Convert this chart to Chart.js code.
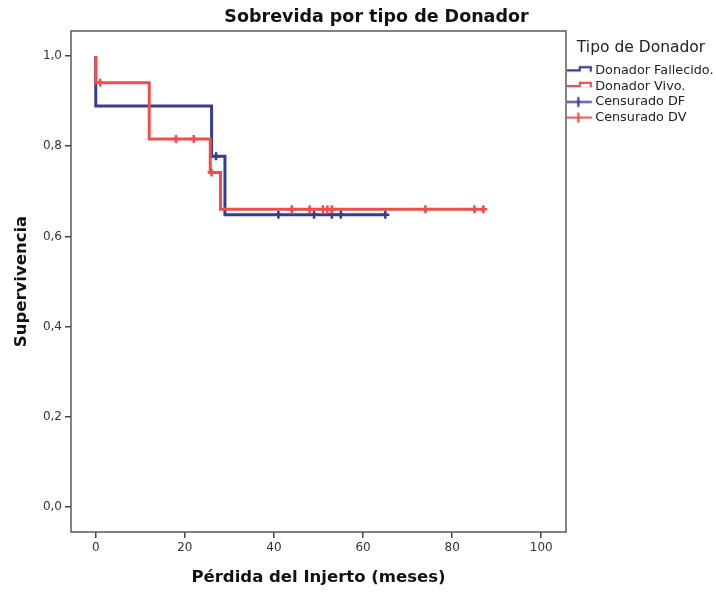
<!DOCTYPE html>
<html>
<head>
<meta charset="utf-8">
<script src="https://cdn.jsdelivr.net/npm/chart.js@4.4.1/dist/chart.umd.min.js"></script>
<style>
    body { margin: 0; background: #fff; }
    #wrap { position: relative; width: 716px; height: 592px; }
    #titulo {
        position: absolute; left: 0; top: 6px; width: 753px;
        text-align: center; line-height: 22px;
        font: bold 17.5px "DejaVu Sans", sans-serif; color: #111;
    }
</style>
</head>
<body>
<div id="wrap">
    <div id="titulo">Sobrevida por tipo de Donador</div>
    <canvas id="kmChart" width="716" height="592"></canvas>
</div>
<script>
// Kaplan-Meier, valores
const fallecidoTiempo = [0, 0, 26, 29, 65];
const fallecidoSuperv = [1.0, 0.889, 0.778, 0.648, 0.648];
const vivoTiempo = [0, 0, 12, 25.7, 28, 87];
const vivoSuperv = [1.0, 0.941, 0.816, 0.742, 0.660, 0.660];

const censDFTiempo = [27, 41, 49, 53, 55, 65];
const censDFSuperv = [0.778, 0.648, 0.648, 0.648, 0.648, 0.648];
const censDVTiempo = [1, 18, 22, 26, 44, 48, 51, 52, 53, 74, 85, 87];
const censDVSuperv = [0.941, 0.816, 0.816, 0.742, 0.660, 0.660, 0.660, 0.660, 0.660, 0.660, 0.660, 0.660];

const xTicks = [0, 20, 40, 60, 80, 100];
const yTicks = [0, 0.2, 0.4, 0.6, 0.8, 1.0];

const azul = '#363d8e';
const rojo = '#f24c4c';

const toPoints = (xs, ys) => xs.map((x, i) => ({ x: x, y: ys[i] }));

// legend icons (step for the curves, cross for the censored)
function stepIcon(color) {
    const c = document.createElement('canvas');
    c.width = 28; c.height = 13;
    const g = c.getContext('2d');
    g.strokeStyle = color;
    g.lineWidth = 2.2;
    g.beginPath();
    g.moveTo(2, 6.2);
    g.lineTo(15, 6.2);
    g.lineTo(15, 2.8);
    g.lineTo(26, 2.8);
    g.lineTo(26, 7.5);
    g.stroke();
    return c;
}
function crossIcon(color) {
    const c = document.createElement('canvas');
    c.width = 28; c.height = 13;
    const g = c.getContext('2d');
    g.strokeStyle = color;
    g.lineWidth = 2.2;
    g.beginPath();
    g.moveTo(2, 6.5); g.lineTo(27, 6.5);
    g.moveTo(13.5, 1.5); g.lineTo(13.5, 11.5);
    g.stroke();
    return c;
}
const icons = [stepIcon(azul), stepIcon(rojo), crossIcon(azul), crossIcon(rojo)];

// box around the plot area
const frame = {
    id: 'frame',
    beforeDatasetsDraw(chart) {
        const a = chart.chartArea;
        const ctx = chart.ctx;
        ctx.save();
        ctx.strokeStyle = '#5a5a5a';
        ctx.lineWidth = 1.5;
        ctx.strokeRect(a.left, a.top, a.right - a.left, a.bottom - a.top);
        ctx.restore();
    }
};

const ctx = document.getElementById('kmChart').getContext('2d');
new Chart(ctx, {
    type: 'line',
    data: {
        datasets: [{
            label: 'Donador Fallecido.',
            data: toPoints(fallecidoTiempo, fallecidoSuperv),
            borderColor: azul,
            borderWidth: 3,
            stepped: true,
            pointRadius: 0,
            fill: false,
            order: 4
        }, {
            label: 'Donador Vivo.',
            data: toPoints(vivoTiempo, vivoSuperv),
            borderColor: rojo,
            borderWidth: 3,
            stepped: true,
            pointRadius: 0,
            fill: false,
            order: 2
        }, {
            label: 'Censurado DF',
            data: toPoints(censDFTiempo, censDFSuperv),
            showLine: false,
            pointStyle: 'cross',
            pointRadius: 4,
            pointBorderWidth: 2.5,
            borderColor: azul,
            order: 3
        }, {
            label: 'Censurado DV',
            data: toPoints(censDVTiempo, censDVSuperv),
            showLine: false,
            pointStyle: 'cross',
            pointRadius: 4,
            pointBorderWidth: 2.5,
            borderColor: rojo,
            order: 1
        }]
    },
    options: {
        responsive: false,
        animation: false,
        layout: {
            padding: { top: 31, left: 0, right: 0, bottom: 0 }
        },
        plugins: {
            title: { display: false },
            tooltip: { enabled: false },
            legend: {
                position: 'right',
                align: 'start',
                maxWidth: 150,
                title: {
                    display: true,
                    text: 'Tipo de Donador',
                    color: '#222',
                    font: { family: 'DejaVu Sans', size: 15.5 },
                    padding: { top: 9, bottom: 3 }
                },
                labels: {
                    usePointStyle: true,
                    pointStyleWidth: 20,
                    padding: 2.8,
                    color: '#222',
                    font: { family: 'DejaVu Sans', size: 12.8 },
                    generateLabels: function(chart) {
                        return chart.data.datasets.map((ds, i) => ({
                            text: ds.label,
                            pointStyle: icons[i],
                            fillStyle: ds.borderColor,
                            strokeStyle: ds.borderColor,
                            lineWidth: 0,
                            fontColor: '#222',
                            hidden: !chart.isDatasetVisible(i),
                            datasetIndex: i
                        }));
                    }
                }
            }
        },
        scales: {
            x: {
                type: 'linear',
                min: -5.56,
                max: 105.56,
                afterBuildTicks: axis => { axis.ticks = xTicks.map(v => ({ value: v })); },
                afterFit: axis => { axis.height = 60; },
                border: { display: false },
                grid: {
                    drawOnChartArea: false,
                    drawTicks: true,
                    tickLength: 6,
                    color: '#444',
                    lineWidth: 1.5
                },
                ticks: {
                    color: '#333',
                    padding: 3,
                    font: { family: 'DejaVu Sans', size: 12 }
                },
                title: {
                    display: true,
                    text: 'Pérdida del Injerto (meses)',
                    color: '#111',
                    font: { family: 'DejaVu Sans', size: 16.5, weight: 'bold' },
                    padding: { top: 0, bottom: 4 }
                }
            },
            y: {
                min: -0.0556,
                max: 1.0556,
                afterBuildTicks: axis => { axis.ticks = yTicks.map(v => ({ value: v })); },
                afterFit: axis => { axis.width = 71; },
                border: { display: false },
                grid: {
                    drawOnChartArea: false,
                    drawTicks: true,
                    tickLength: 6,
                    color: '#444',
                    lineWidth: 1.5
                },
                ticks: {
                    color: '#333',
                    padding: 3,
                    font: { family: 'DejaVu Sans', size: 12 },
                    callback: v => v.toFixed(1).replace('.', ',')
                },
                title: {
                    display: true,
                    text: 'Supervivencia',
                    color: '#111',
                    font: { family: 'DejaVu Sans', size: 16.5, weight: 'bold' },
                    padding: { top: 12, bottom: 0 }
                }
            }
        }
    },
    plugins: [frame]
});
</script>
</body>
</html>
